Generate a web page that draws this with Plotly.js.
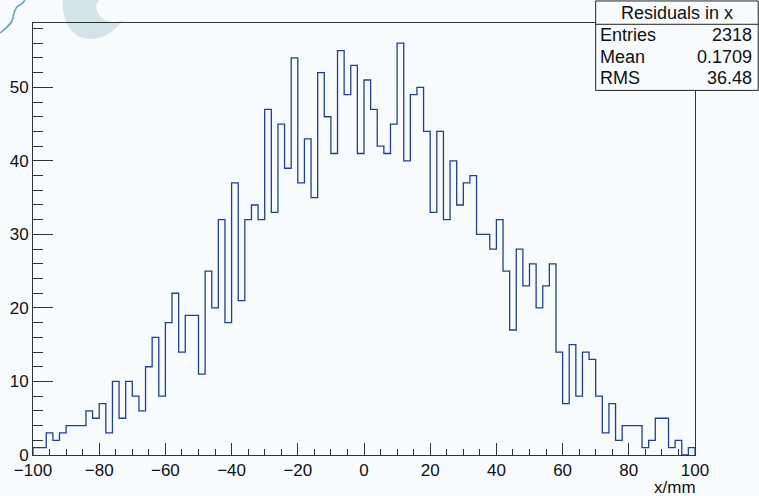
<!DOCTYPE html>
<html>
<head>
<meta charset="utf-8">
<script src="https://cdn.plot.ly/plotly-3.0.1.min.js"></script>
<style>
  html, body { margin:0; padding:0; background:#f7fbfd; }
  #wrap { position:relative; width:759px; height:496px; }
  #wm { position:absolute; left:0; top:0; }
  #chart { position:absolute; left:0; top:0; width:759px; height:496px; }
</style>
</head>
<body>
<div id="wrap">
<svg id="wm" width="759" height="496">
  <path d="M63,0 C62,14 66,30 80,37 C92,42 110,38 123,20 C114,24 104,22 99,15 C95,9 96,3 99,0 Z" fill="#d3e3ea"/>
  <path d="M0,33 C6,28 12,24 13,18 C14,12 15,8 18,6 C22,4 24,2 25,0" fill="none" stroke="#6fa3bb" stroke-width="1.6"/>
</svg>
<div id="chart"></div>
</div>
<script>
// Histogram "Residuals in x": 100 bins from -100 to 100 mm
const xMin = -100;
const xMax = 100;
const counts = [
  1,1,3,2,3,4,4,4,6,5, 7,3,10,5,10,8,6,12,16,8,
  18,22,14,19,19,11,25,20,32,18, 37,21,32,34,32,47,33,45,39,54,
  37,43,35,52,46,41,55,49,53,41, 51,47,42,41,45,56,40,49,50,44,
  33,44,32,40,34,37,38,30,30,28, 32,25,17,28,23,26,20,23,26,14,
  7,15,8,14,13,8,3,7,2,4, 4,4,1,2,5,5,1,2,0,1
];
const statTitle = "Residuals in x";
const statNames = ["Entries", "Mean", "RMS"];
const statValues = ["2318", "0.1709", "36.48"];
const xTitle = "x/mm";
const xTickVals = [-100, -80, -60, -40, -20, 0, 20, 40, 60, 80, 100];
const yTickVals = [0, 10, 20, 30, 40, 50];

const nb = counts.length;
const bw = (xMax - xMin) / nb;
const hx = [xMin], hy = [0];
for (let i = 0; i < nb; i++) { hx.push(xMin + i * bw); hy.push(counts[i]); }
hx.push(xMax); hy.push(counts[nb - 1]);
hx.push(xMax); hy.push(0);

const font = "Liberation Sans, Arial, Helvetica, sans-serif";
const trace = {
  x: hx, y: hy, type: 'scatter', mode: 'lines',
  line: { shape: 'hv', color: '#22408a', width: 1.3 },
  hoverinfo: 'skip'
};

// stats box geometry in paper units
const bx0 = 0.85, bx1 = 1.0955, by0 = 0.844, by1 = 1.051, bySep = 0.997;
const rowY = [0.944, 0.893, 0.843];
const shapes = [
  { type:'rect', xref:'paper', yref:'paper', x0:bx0, x1:bx1, y0:by0, y1:by1,
    line:{color:'#222', width:1}, fillcolor:'#f7fbfd', layer:'above' },
  { type:'line', xref:'paper', yref:'paper', x0:bx0, x1:bx1, y0:bySep, y1:bySep,
    line:{color:'#222', width:1}, layer:'above' }
];
const annotations = [
  { text: statTitle, xref:'paper', yref:'paper', x:(bx0+bx1)/2, y:(by1+bySep)/2 - 0.002,
    xanchor:'center', yanchor:'middle', showarrow:false, font:{family:font, size:18, color:'#111'} }
];
for (let i = 0; i < statNames.length; i++) {
  annotations.push({ text: statNames[i], xref:'paper', yref:'paper', x:bx0+0.003, y:rowY[i]+0.029,
    xanchor:'left', yanchor:'middle', showarrow:false, font:{family:font, size:18, color:'#111'} });
  annotations.push({ text: statValues[i], xref:'paper', yref:'paper', x:bx1-0.006, y:rowY[i]+0.029,
    xanchor:'right', yanchor:'middle', showarrow:false, font:{family:font, size:18, color:'#111'} });
}
annotations.push({ text: xTitle, xref:'paper', yref:'paper', x:1.003, y:-0.0745,
  xanchor:'right', yanchor:'middle', showarrow:false, borderpad:0,
  font:{family:font, size:17, color:'#111'} });

const layout = {
  width: 759, height: 496,
  margin: { l: 33, r: 64, t: 23, b: 41, pad: 0 },
  paper_bgcolor: 'rgba(0,0,0,0)',
  plot_bgcolor: 'rgba(0,0,0,0)',
  showlegend: false,
  font: { family: font, size: 17, color: '#111' },
  xaxis: {
    range: [xMin, xMax], showgrid: false, zeroline: false,
    showline: true, mirror: true, linecolor: '#333', linewidth: 1,
    ticks: 'inside', ticklen: 12, tickcolor: '#333', tickwidth: 1,
    tickvals: xTickVals, ticktext: xTickVals.map(v => v < 0 ? '\u2212' + Math.abs(v) : String(v)),
    minor: { dtick: 5, ticklen: 6, tickcolor: '#333', ticks: 'inside', showgrid: false },
    tickfont: { family: font, size: 17, color: '#111' },
    ticklabelstandoff: 0
  },
  yaxis: {
    range: [0, 58.75], showgrid: false, zeroline: false,
    showline: true, mirror: true, linecolor: '#333', linewidth: 1,
    ticks: 'inside', ticklen: 20, tickcolor: '#333', tickwidth: 1,
    tickvals: yTickVals, ticktext: yTickVals.map(String),
    minor: { dtick: 2, ticklen: 10, tickcolor: '#333', ticks: 'inside', showgrid: false },
    tickfont: { family: font, size: 17, color: '#111' }
  },
  shapes: shapes,
  annotations: annotations
};

Plotly.newPlot('chart', [trace], layout, { staticPlot: true, displayModeBar: false });
</script>
</body>
</html>
